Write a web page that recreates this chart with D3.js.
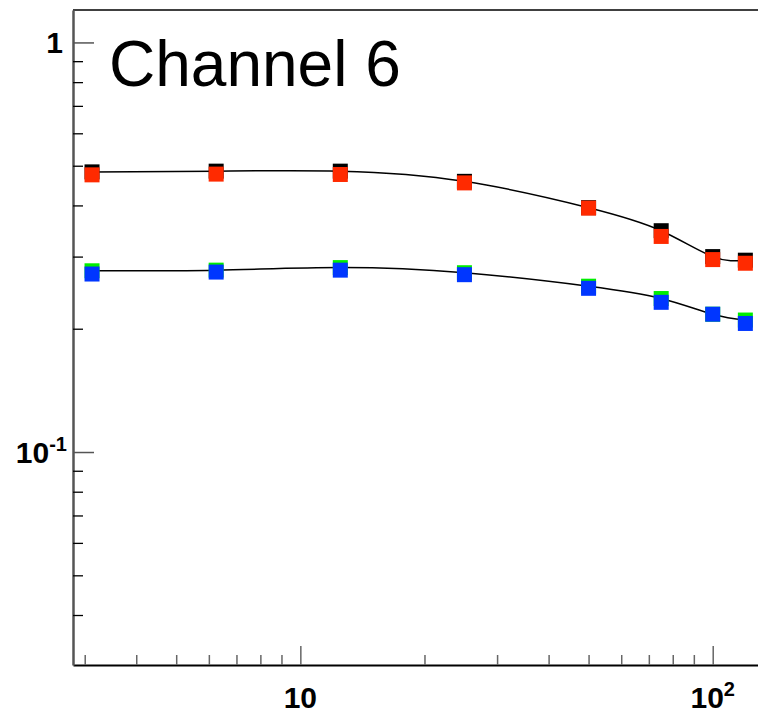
<!DOCTYPE html>
<html>
<head>
<meta charset="utf-8">
<script src="https://cdn.jsdelivr.net/npm/d3@7"></script>
<style>
  html, body { margin: 0; padding: 0; background: #fff; overflow: hidden; }
  svg { display: block; font-family: "Liberation Sans", Arial, sans-serif; }
</style>
</head>
<body>
<div id="chart"></div>
<script>
// energy points (x) and the four series
var energies = [3.125, 6.25, 12.5, 25, 50, 75, 100, 120];
var blackVals = [0.483, 0.485, 0.485, 0.458, 0.395, 0.347, 0.300, 0.294];
var redVals   = [0.475, 0.477, 0.476, 0.454, 0.394, 0.336, 0.295, 0.289];
var greenVals = [0.277, 0.278, 0.282, 0.274, 0.254, 0.237, 0.217, 0.210];
var blueVals  = [0.272, 0.275, 0.278, 0.271, 0.251, 0.232, 0.217, 0.206];
var redErr    = [0, 0, 0, 0, 0, 0, 0, 0.006];

var xMajor = [10, 100];
var xMinor = [3, 4, 5, 6, 7, 8, 9, 20, 30, 40, 50, 60, 70, 80, 90];
var yMajor = [0.1, 1];
var yMinor = [0.04, 0.05, 0.06, 0.07, 0.08, 0.09, 0.2, 0.3, 0.4, 0.5, 0.6, 0.7, 0.8, 0.9];

var W = 758, H = 713;
var margin = { top: 10, left: 73, bottom: 665, right: 770 };

var svg = d3.select("#chart").append("svg")
    .attr("width", W)
    .attr("height", H);

var x = d3.scaleLog().domain([2.81, 137.7]).range([margin.left, margin.right]);
var y = d3.scaleLog().domain([0.0302, 1.2]).range([margin.bottom, margin.top]);

// frame top
svg.append("line")
    .attr("x1", margin.left).attr("x2", W)
    .attr("y1", margin.top).attr("y2", margin.top)
    .attr("stroke", "#000").attr("stroke-width", 1.5);

// curves through the black and green points
var line = d3.line()
    .x(d => x(d[0]))
    .y(d => y(d[1]))
    .curve(d3.curveNatural);

[blackVals, greenVals].forEach(function (vals) {
    svg.append("path")
        .datum(energies.map((e, i) => [e, vals[i]]))
        .attr("d", line)
        .attr("fill", "none")
        .attr("stroke", "#000")
        .attr("stroke-width", 1.5);
});

// markers
var ms = 15;
function drawMarkers(vals, color, errs) {
    var g = svg.append("g");
    if (errs) {
        g.selectAll("line")
            .data(energies.map((e, i) => [e, vals[i], errs[i]]).filter(d => d[2] > 0))
            .join("line")
            .attr("x1", d => x(d[0])).attr("x2", d => x(d[0]))
            .attr("y1", d => y(d[1] + d[2])).attr("y2", d => y(d[1] - d[2]))
            .attr("stroke", "#000").attr("stroke-width", 1.5);
    }
    g.selectAll("rect")
        .data(energies.map((e, i) => [e, vals[i]]))
        .join("rect")
        .attr("x", d => x(d[0]) - ms / 2)
        .attr("y", d => y(d[1]) - ms / 2)
        .attr("width", ms)
        .attr("height", ms)
        .attr("fill", color);
}
drawMarkers(blackVals, "#000000");
drawMarkers(redVals, "#ff2a00", redErr);
drawMarkers(greenVals, "#00ee00");
drawMarkers(blueVals, "#0036ff");

// axes: minor and major ticks pointing inward
var fmtNone = () => "";
svg.append("g")
    .attr("transform", "translate(0," + margin.bottom + ")")
    .call(d3.axisBottom(x).tickValues(xMinor).tickSizeInner(-10).tickSizeOuter(0).tickFormat(fmtNone))
    .call(g => g.select(".domain").attr("stroke", "#000").attr("stroke-width", 2))
    .call(g => g.selectAll(".tick line").attr("stroke", "#666").attr("stroke-width", 1.5));
svg.append("g")
    .attr("transform", "translate(0," + margin.bottom + ")")
    .call(d3.axisBottom(x).tickValues(xMajor).tickSizeInner(-19).tickSizeOuter(0).tickFormat(fmtNone))
    .call(g => g.select(".domain").remove())
    .call(g => g.selectAll(".tick line").attr("stroke", "#666").attr("stroke-width", 1.5));

svg.append("g")
    .attr("transform", "translate(" + margin.left + ",0)")
    .call(d3.axisLeft(y).tickValues(yMinor).tickSizeInner(-10).tickSizeOuter(0).tickFormat(fmtNone))
    .call(g => g.select(".domain").attr("stroke", "#555").attr("stroke-width", 2.5))
    .call(g => g.selectAll(".tick line").attr("stroke", "#000").attr("stroke-width", 1.3));
svg.append("g")
    .attr("transform", "translate(" + margin.left + ",0)")
    .call(d3.axisLeft(y).tickValues(yMajor).tickSizeInner(-21).tickSizeOuter(0).tickFormat(fmtNone))
    .call(g => g.select(".domain").remove())
    .call(g => g.selectAll(".tick line").attr("stroke", "#555").attr("stroke-width", 1.5));

// tick labels, ROOT style
function powLabel(sel, v) {
    var e = Math.round(Math.log10(v));
    if (e === 0) { sel.append("tspan").text("1"); return; }
    if (e === 1) { sel.append("tspan").text("10"); return; }
    sel.append("tspan").text("10");
    sel.append("tspan").attr("dy", -12).attr("font-size", 20).text(String(e));
}

xMajor.forEach(function (v) {
    var t = svg.append("text")
        .attr("x", x(v))
        .attr("y", 708)
        .attr("text-anchor", "middle")
        .attr("font-size", 30)
        .attr("font-weight", "bold");
    powLabel(t, v);
});

yMajor.forEach(function (v) {
    var t = svg.append("text")
        .attr("x", v === 1 ? 63 : 67)
        .attr("y", y(v) + 11)
        .attr("text-anchor", "end")
        .attr("font-size", 30)
        .attr("font-weight", "bold");
    powLabel(t, v);
});

// title
svg.append("text")
    .attr("x", 109)
    .attr("y", 86)
    .attr("font-size", 64)
    .text("Channel 6");
</script>
</body>
</html>
